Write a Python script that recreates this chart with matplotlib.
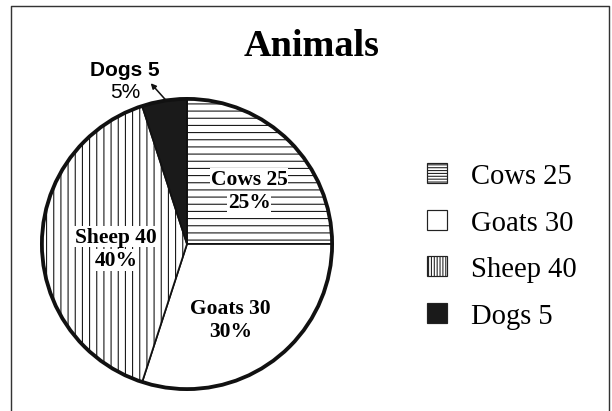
import matplotlib
matplotlib.use("Agg")
import matplotlib.pyplot as plt
from matplotlib.patches import Patch, Circle
from matplotlib.lines import Line2D
import numpy as np

# ---- data ----
categories = ["Cows", "Goats", "Sheep", "Dogs"]
values = [25, 30, 40, 5]
title = "Animals"

# ---- styles ----
hatches = ["--", "", "||", ""]
facecolors = ["white", "white", "white", "#1a1a1a"]
legend_hatches = ["-----", "", "|||||", ""]

DPI = 86
W, H = 612, 412
plt.rcParams["hatch.linewidth"] = 0.9
SERIF = ["Liberation Serif", "DejaVu Serif"]
SANS = ["Liberation Sans", "DejaVu Sans"]

fig = plt.figure(figsize=(W / DPI, H / DPI), dpi=DPI)

# pie axes: centre (187,245) px, radius 148 px
cx, cy, r = 187, 245, 148
ax = fig.add_axes([(cx - r) / W, (H - cy - r) / H, 2 * r / W, 2 * r / H])
wedges, _ = ax.pie(values, startangle=90, counterclock=False, radius=1,
                   colors=facecolors,
                   wedgeprops=dict(edgecolor="#111111", linewidth=1.5))
for w, h in zip(wedges, hatches):
    if h:
        w.set_hatch(h)
ax.add_patch(Circle((0, 0), 1, fill=False, edgecolor="#111111", linewidth=3.2, zorder=5))
ax.set_xlim(-1.02, 1.02)
ax.set_ylim(-1.02, 1.02)
ax.set_aspect("equal")
ax.axis("off")

total = sum(values)
pcts = [v / total * 100 for v in values]

# label positions (in pie axes units) for the inside labels
label_pos = {"Cows": (0.43, 0.37), "Sheep": (-0.49, -0.03), "Goats": (0.30, -0.52)}
line_gap = 0.16
for cat, val, pct in zip(categories, values, pcts):
    if cat not in label_pos:
        continue
    x, y = label_pos[cat]
    bb = dict(facecolor="white", edgecolor="none", pad=0.6) if cat != "Goats" else None
    ax.text(x, y + line_gap / 2, f"{cat} {val}", ha="center", va="center",
            family=SERIF, fontweight="bold", fontsize=18, bbox=bb, zorder=6)
    ax.text(x, y - line_gap / 2, f"{pct:.0f}%", ha="center", va="center",
            family=SERIF, fontweight="bold", fontsize=18, bbox=bb, zorder=6)

# Dogs label outside with arrow
d_idx = categories.index("Dogs")
ax.annotate("", xy=(-0.25, 1.108), xytext=(-0.149, 0.995),
            arrowprops=dict(arrowstyle="-|>", color="#111111", lw=1.3,
                            mutation_scale=9, shrinkA=0, shrinkB=0),
            annotation_clip=False)
ax.text(-0.426, 1.203, f"{categories[d_idx]} {values[d_idx]}", ha="center", va="center",
        family=SANS, fontweight="bold", fontsize=17.5, clip_on=False)
ax.text(-0.426, 1.054, f"{pcts[d_idx]:.0f}%", ha="center", va="center",
        family=SANS, fontsize=17.5, clip_on=False)

# title
fig.text(312 / W, 1 - 47 / H, title, ha="center", va="center",
         family=SERIF, fontweight="bold", fontsize=32)

# legend
handles = [Patch(facecolor=fc, edgecolor="#222222", hatch=h, linewidth=1.0)
           for fc, h in zip(facecolors, legend_hatches)]
labels = [f"{c} {v}" for c, v in zip(categories, values)]
fig.legend(handles, labels, loc="upper left", bbox_to_anchor=(427 / W, 1 - 164 / H),
           frameon=False, borderpad=0, borderaxespad=0, handlelength=0.7,
           handleheight=0.7, handletextpad=0.85, labelspacing=0.72,
           prop=dict(family=SERIF, size=24))

# outer frame (bottom cut off)
fig.add_artist(Line2D([11 / W, 11 / W, 609 / W, 609 / W], [0, 1 - 7 / H, 1 - 7 / H, 0],
                      color="#333333", lw=1.2, transform=fig.transFigure))

fig.savefig("out.png", dpi=DPI)
